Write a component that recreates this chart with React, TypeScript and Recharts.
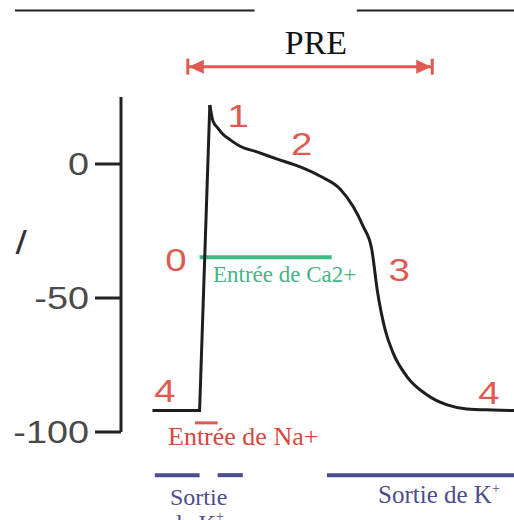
import React from 'react';
import { ComposedChart, Line, XAxis, YAxis, ReferenceLine, ReferenceDot } from 'recharts';

// Action potential trace (time in ms, potential in mV)
// resting + upstroke (phase 4 -> 0)
const upTimes = [-60, 0, 13];
const upVolts = [-92, -92, 22];
// after the peak (phases 1, 2, 3, 4)
const repTimes = [13, 17, 23, 30, 39, 51, 73, 98, 128, 153, 179, 195, 208, 219, 226, 236, 246, 264, 289, 315, 340, 373, 400];
const repVolts = [22, 16, 13.5, 11, 9, 6.7, 4.5, 1.9, -1.1, -4.5, -9.4, -15.7, -23.2, -31.8, -47, -61.8, -70.4, -79.4, -86.1, -89.9, -91.4, -91.8, -92];
const yTicks = [-100, -50, 0];

// Phase numbers: [label, t, v]
const phaseLabels = ['1', '2', '0', '3', '4', '4'];
const phaseT = [49, 130, -30, 254, -44, 368];
const phaseV = [18, 7.5, -35.6, -39.3, -84.6, -85.4];

// Ion current bars (t ranges) and their levels
const caRange = [0, 168];
const caLevel = -34.8;
const naRange = [-6, 23];
const naLevel = -96.6;
const kRanges = [[-57, 0], [23, 55], [162, 400]];
const kLevel = -116.1;
const preRange = [-15, 296];
const preLevel = 36.3;
const topRanges = [[-235, 70], [200, 400]];
const topLevel = 57.3;

const upData = upTimes.map((t, i) => ({ t, v: upVolts[i] }));
const repData = repTimes.map((t, i) => ({ t, v: repVolts[i] }));

const RED = '#e05a52';
const GREEN = '#3dba80';
const BLUE = '#4d4c8c';
const SERIF = '"Liberation Serif", "Times New Roman", serif';
const SANS = '"Liberation Sans", Arial, sans-serif';

const YTick = (p: any) => {
  const { x, y, payload } = p;
  return (
    <text transform={`translate(${x},${y}) scale(1.22,1)`} textAnchor="end" dominantBaseline="central"
      fill="#4a4a4a" fontFamily={SANS} fontSize={31}>{payload.value}</text>
  );
};

const phaseShape = (label: string) => (p: any) => (
  <text transform={`translate(${p.cx},${p.cy}) scale(1.2,1)`} textAnchor="middle" dominantBaseline="central"
    fill={RED} fontFamily={SANS} fontSize={32}>{label}</text>
);

const textShape = (content: React.ReactNode, fill: string, size: number, anchor: string = 'start', family: string = SERIF) => (p: any) => (
  <text x={p.cx} y={p.cy} textAnchor={anchor} fill={fill} fontFamily={family} fontSize={size}>{content}</text>
);

const arrowShape = (p: any) => {
  const { x1, x2, y1 } = p;
  const y = y1;
  return (
    <g>
      <line x1={x1} y1={y} x2={x2} y2={y} stroke={RED} strokeWidth={3} />
      <line x1={x1} y1={y - 8} x2={x1} y2={y + 8} stroke={RED} strokeWidth={3} />
      <line x1={x2} y1={y - 8} x2={x2} y2={y + 8} stroke={RED} strokeWidth={3} />
      <polygon points={`${x1 + 1},${y} ${x1 + 16},${y - 7} ${x1 + 16},${y + 7}`} fill={RED} />
      <polygon points={`${x2 - 1},${y} ${x2 - 16},${y - 7} ${x2 - 16},${y + 7}`} fill={RED} />
    </g>
  );
};

export default function App() {
  return (
    <div style={{ position: 'absolute', left: 0, top: 0, width: 514, height: 520, background: '#fff', overflow: 'hidden' }}>
      <ComposedChart width={514} height={520} margin={{ top: 97, right: 0, bottom: 88, left: 0 }}>
        <XAxis type="number" dataKey="t" domain={[-100, 400]} hide allowDataOverflow />
        <YAxis type="number" domain={[-100, 25]} allowDataOverflow ticks={yTicks} width={121}
          axisLine={{ stroke: '#222', strokeWidth: 3 }} tickLine={{ stroke: '#222', strokeWidth: 3 }}
          tickSize={26} tickMargin={6} tick={<YTick />} />
        {topRanges.map((r, i) => (
          <ReferenceLine key={'top' + i} segment={[{ x: r[0], y: topLevel }, { x: r[1], y: topLevel }]}
            stroke="#222" strokeWidth={2} ifOverflow="visible" />
        ))}
        <ReferenceLine segment={[{ x: preRange[0], y: preLevel }, { x: preRange[1], y: preLevel }]}
          ifOverflow="visible" shape={arrowShape} />
        <ReferenceDot x={148} y={41.2} r={0} ifOverflow="visible" shape={textShape('PRE', '#111', 34, 'middle')} />
        <ReferenceLine segment={[{ x: caRange[0], y: caLevel }, { x: caRange[1], y: caLevel }]}
          stroke={GREEN} strokeWidth={4} ifOverflow="visible" />
        <ReferenceDot x={17} y={-44.2} r={0} ifOverflow="visible" shape={textShape('Entrée de Ca2+', '#45b586', 23)} />
        <ReferenceLine segment={[{ x: naRange[0], y: naLevel }, { x: naRange[1], y: naLevel }]}
          stroke={RED} strokeWidth={3} ifOverflow="visible" />
        <ReferenceDot x={-40.2} y={-104.9} r={0} ifOverflow="visible" shape={textShape('Entrée de Na+', '#d9463e', 26)} />
        {kRanges.map((r, i) => (
          <ReferenceLine key={'k' + i} segment={[{ x: r[0], y: kLevel }, { x: r[1], y: kLevel }]}
            stroke={BLUE} strokeWidth={4} ifOverflow="visible" />
        ))}
        <ReferenceDot x={-37.7} y={-127.3} r={0} ifOverflow="visible" shape={textShape('Sortie', BLUE, 24)} />
        <ReferenceDot x={-37.7} y={-137.1} r={0} ifOverflow="visible"
          shape={textShape(<>de K<tspan dy={-10} fontSize={14}>+</tspan></>, BLUE, 24)} />
        <ReferenceDot x={227} y={-126.6} r={0} ifOverflow="visible"
          shape={textShape(<>Sortie de K<tspan dy={-10} fontSize={14}>+</tspan></>, BLUE, 25)} />
        <ReferenceDot x={-227} y={-29.2} r={0} ifOverflow="visible" shape={(p: any) => (
          <text transform={`translate(${p.cx},${p.cy}) scale(1.2,1)`} textAnchor="middle" dominantBaseline="central"
            fill="#333" fontFamily={SANS} fontSize={34}>/</text>
        )} />
        {phaseLabels.map((l, i) => (
          <ReferenceDot key={'ph' + i} x={phaseT[i]} y={phaseV[i]} r={0} ifOverflow="visible" shape={phaseShape(l)} />
        ))}
        <Line data={upData} type="linear" dataKey="v" stroke="#1e1e1e" strokeWidth={3} dot={false} isAnimationActive={false} />
        <Line data={repData} type="monotoneX" dataKey="v" stroke="#1e1e1e" strokeWidth={3} dot={false} isAnimationActive={false} />
      </ComposedChart>
    </div>
  );
}
